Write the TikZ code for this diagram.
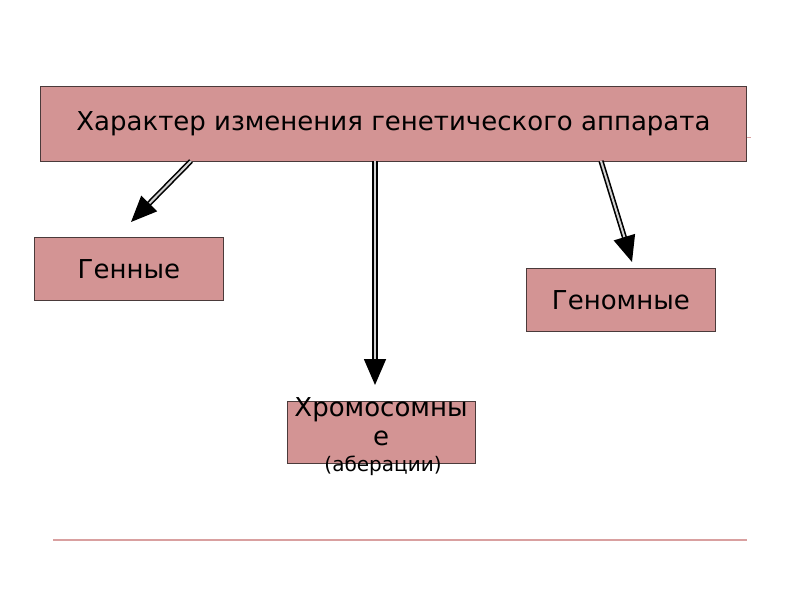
\documentclass[tikz,border=0pt]{standalone}
\usepackage{fontspec}
\setmainfont{DejaVu Sans}
\usetikzlibrary{arrows.meta}
\definecolor{boxfill}{HTML}{D39494}
\definecolor{boxline}{HTML}{4A3A3A}
\definecolor{rule}{HTML}{D9A0A0}
\tikzset{
  rbox/.style={draw=boxline, line width=0.8pt, fill=boxfill, anchor=north west, inner sep=0pt},
  lbl/.style={font=\fontsize{26}{30}\selectfont, text=black, inner sep=0pt},
  conn/.style={draw=black, line width=1.6pt, double=gray!35, double distance=2pt,
    -{Triangle[length=26pt,width=22pt,fill=black]}},
}
\begin{document}
\begin{tikzpicture}[x=1pt,y=-1pt]
\useasboundingbox (0,0) rectangle (800,600);
\node[rbox, minimum width=706pt, minimum height=75pt] (top) at (40,86) {};
\node[lbl] at (top.center) {Характер изменения генетического аппарата};
\node[rbox, minimum width=189pt, minimum height=63pt] (gen) at (34,237) {};
\node[lbl] at (gen.center) {Генные};
\node[rbox, minimum width=189pt, minimum height=63pt] (genom) at (526,268) {};
\node[lbl] at (genom.center) {Геномные};
\node[rbox, minimum width=188pt, minimum height=62pt] (chrom) at (287,401) {};
\node[lbl, anchor=base] (c1) at (381,416) {Хромосомны};
\node[lbl, anchor=base] (c2) at (381,445) {е};
\node[font=\fontsize{20}{24}\selectfont, anchor=base, inner sep=0pt] (c3) at (383,471) {(аберации)};
\coordinate (a1s) at (191,161); \coordinate (a1e) at (131,222);
\coordinate (a2s) at (375,161); \coordinate (a2e) at (375,385);
\coordinate (a3s) at (601,161); \coordinate (a3e) at (632,262);
\draw[conn] (a1s) -- (a1e);
\draw[conn] (a2s) -- (a2e);
\draw[conn] (a3s) -- (a3e);
\coordinate (t1) at (top.east |- 0,137); \coordinate (t2) at (751,137);
\draw[rule, line width=0.8pt] (t1) -- (t2);
\coordinate (r1) at (53,540); \coordinate (r2) at (747,540);
\draw[rule, line width=1.2pt] (r1) -- (r2);
\end{tikzpicture}
\end{document}
